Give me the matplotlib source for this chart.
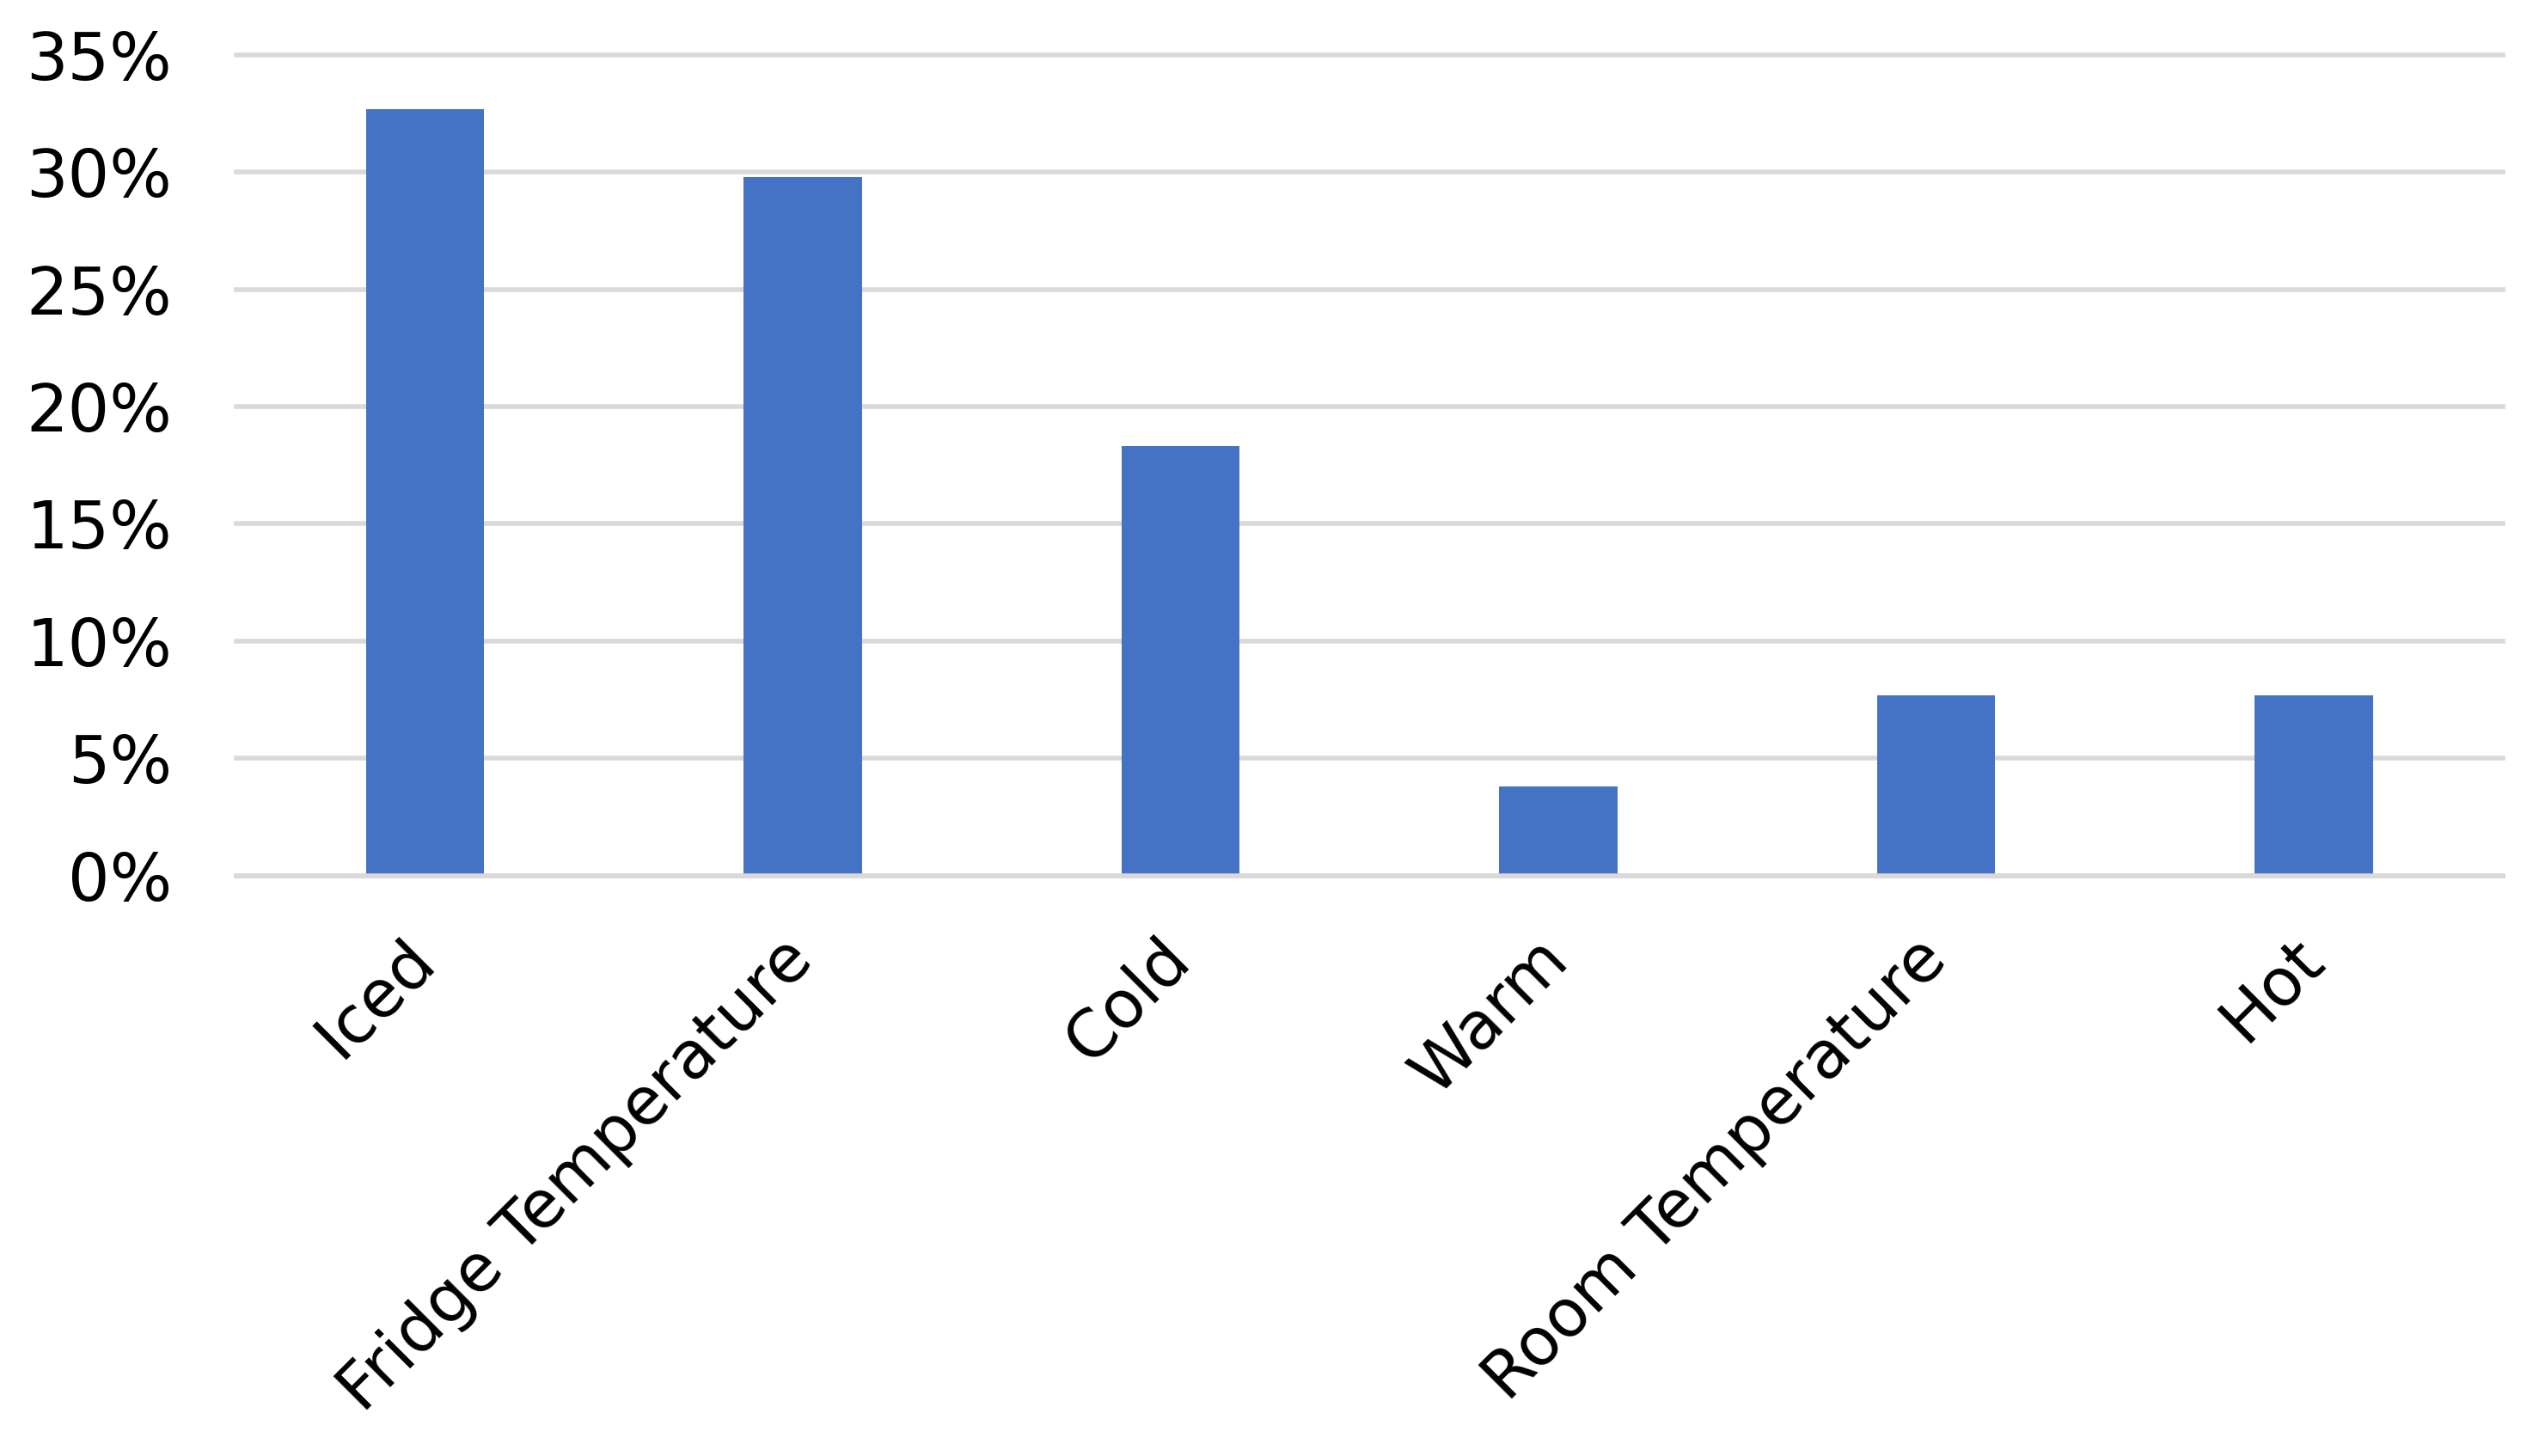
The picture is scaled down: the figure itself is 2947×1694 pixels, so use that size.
import matplotlib
matplotlib.use("Agg")
import matplotlib.pyplot as plt
from matplotlib.ticker import PercentFormatter

categories = ["Iced", "Fridge Temperature", "Cold", "Warm", "Room Temperature", "Hot"]
shares = [0.327, 0.298, 0.183, 0.038, 0.077, 0.077]
yticks = [0, 0.05, 0.10, 0.15, 0.20, 0.25, 0.30, 0.35]

bar_color = "#4472C4"
grid_color = "#D9D9D9"

plt.rcParams["font.family"] = ["DejaVu Sans"]

fig = plt.figure(figsize=(29.47, 16.94), dpi=100)
ax = fig.add_axes([0.0933, 0.3987, 0.8948, 0.5636])

x = range(len(categories))
ax.bar(x, shares, width=0.313, color=bar_color, zorder=2)

ax.set_xlim(-0.5, len(categories) - 0.5)
ax.set_ylim(0, 0.35)
ax.set_yticks(yticks)
ax.yaxis.set_major_formatter(PercentFormatter(1.0, decimals=0))
ax.set_xticks(list(x))
ax.set_xticklabels(categories, rotation=45, ha="right", va="center",
                   rotation_mode="anchor")

ax.yaxis.grid(True, color=grid_color, linewidth=4)
ax.set_axisbelow(True)
for gl in ax.get_ygridlines():
    gl.set_clip_on(False)

for side in ["top", "left", "right"]:
    ax.spines[side].set_visible(False)
ax.spines["bottom"].set_color(grid_color)
ax.spines["bottom"].set_linewidth(4)
ax.spines["bottom"].set_zorder(3)

ax.tick_params(axis="y", length=0, pad=54, labelsize=55)
ax.tick_params(axis="x", length=0, pad=62, labelsize=55)

fig.savefig("out.png", dpi=100, facecolor="white")
